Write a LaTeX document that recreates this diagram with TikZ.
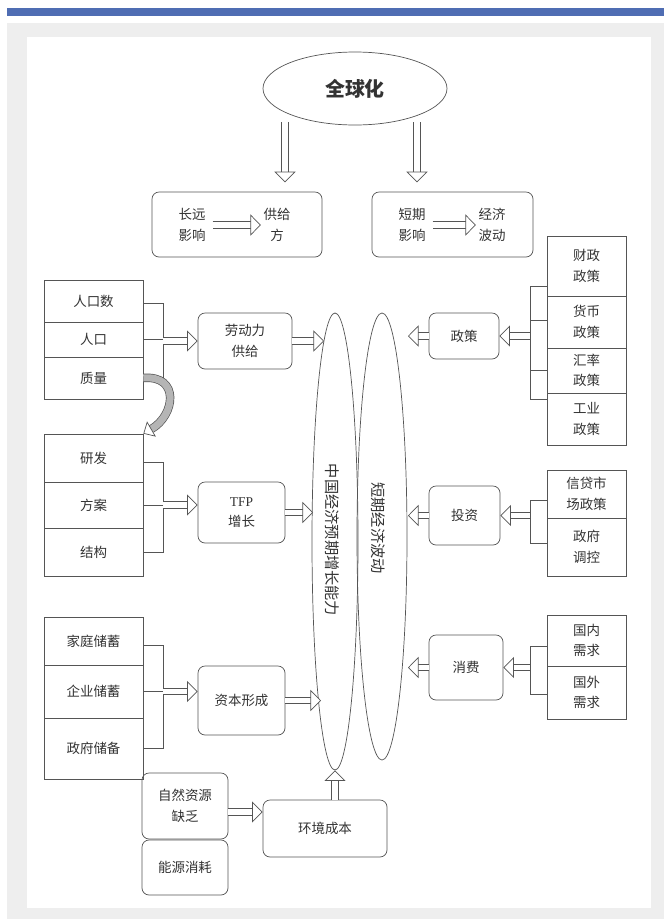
\documentclass[tikz,border=0pt]{standalone}
\usepackage{fontspec}
\setmainfont{Noto Sans CJK SC}
\newfontfamily\latfont{Liberation Serif}
\usepackage{tikz}
\usetikzlibrary{arrows.meta,positioning,calc,shapes.geometric}
\definecolor{bar}{HTML}{4F6DB3}
\definecolor{panel}{HTML}{EEEEEE}
\definecolor{ink}{HTML}{555555}
\definecolor{txt}{HTML}{333333}
\definecolor{shade}{HTML}{B5B5B5}
\newcommand{\px}{0.03cm}

\begin{document}
\begin{tikzpicture}[x=0.03cm,y=-0.03cm,
  every node/.style={font=\fontsize{11.5}{17.5}\selectfont,align=center,text=txt,inner sep=0pt},
  cell/.style={draw=ink,line width=0.6pt,minimum width=99*\px},
  rcell/.style={draw=ink,line width=0.6pt,minimum width=79*\px},
  rbox/.style={draw=ink,line width=0.6pt,rounded corners=6pt},
  oval/.style={draw=ink,line width=0.6pt,ellipse},
  fat/.style={draw=ink,line width=0.6pt,double=white,double distance=5pt,
    -{Triangle[open,fill=white,line width=0.6pt,length=9pt,width=18pt]}},
  curv/.style={draw=ink,line width=0.6pt,double=shade,double distance=6pt,
    -{Triangle[open,fill=white,line width=0.6pt,length=8pt,width=15pt]}},
  bk/.style={draw=ink,line width=0.6pt}
]
\useasboundingbox (0,0) rectangle (664,919);
\fill[white] (0,0) rectangle (664,919);
\fill[bar] (7,8) rectangle (664,16);
\fill[panel] (7,23) rectangle (664,919);
\fill[white] (27,37) rectangle (651,908);

% top
\node[oval,minimum width=184*\px,minimum height=73*\px,
      font=\fontsize{17}{20}\selectfont\bfseries] (glob) at (355,88.5) {全球化};
\node[rbox,minimum width=170*\px,minimum height=65*\px] (supply) at (237,224.5) {};
\node[rbox,minimum width=161*\px,minimum height=65*\px] (fluct) at (452.5,224.5) {};
\node (lr) at (192,225) {长远\\影响};
\node (sup) at (277,225) {供给\\方};
\node (sr) at (412,225) {短期\\影响};
\node (eco) at (492,225) {经济\\波动};
\draw[fat,shorten <=6pt,shorten >=2pt] (lr) -- (sup);
\draw[fat,shorten <=6pt,shorten >=2pt] (sr) -- (eco);
\coordinate (tl) at (285,122);
\coordinate (tr) at (417,122);
\draw[fat,shorten >=8pt] (tl) -- (tl |- supply.north);
\draw[fat,shorten >=8pt] (tr) -- (tr |- fluct.north);

% the two ovals
\node[oval,minimum width=46*\px,minimum height=457*\px] (growth) at (335,541.5) {};
\node[oval,minimum width=50*\px,minimum height=447*\px] (short) at (382,536.5) {};
\node[rotate=-90,font=\fontsize{13}{15}\selectfont] (growthtxt) at (332,540) {中国经济预期增长能力};
\node[rotate=-90,font=\fontsize{13}{15}\selectfont] (shorttxt) at (378,528) {短期经济波动};

% labour
\node[cell,minimum height=42*\px] (pop1) at (93.5,301) {人口数};
\node[cell,minimum height=35*\px] (pop2) at (93.5,339.5) {人口};
\node[cell,minimum height=42*\px] (pop3) at (93.5,378) {质量};
\node[rbox,minimum width=94*\px,minimum height=56*\px] (labour) at (245,341) {劳动力\\供给};
\coordinate (b1) at (163,303);
\draw[bk] (b1 -| pop1.east) -- (b1) |- (pop3.east);
\draw[bk] (pop2.east) -- (pop2.east -| b1);
\draw[fat] (b1 |- labour.west) -- (labour.west);
\coordinate (t1) at (324,341);
\draw[fat] (labour.east) -- (t1);

% tfp
\node[cell,minimum height=48*\px] (rd1) at (93.5,458) {研发};
\node[cell,minimum height=46*\px] (rd2) at (93.5,505) {方案};
\node[cell,minimum height=48*\px] (rd3) at (93.5,552) {结构};
\node[rbox,minimum width=87*\px,minimum height=61*\px] (tfp) at (241.5,512.5) {{\latfont TFP}\\增长};
\coordinate (b2) at (163,462);
\draw[bk] (b2 -| rd1.east) -- (b2) |- (rd3.east);
\draw[bk] (rd2.east) -- (rd2.east -| b2);
\draw[fat] (b2 |- rd2.east) -- (rd2.east -| tfp.west);
\coordinate (t2) at (313,512.5);
\draw[fat] (tfp.east) -- (t2);
\draw[curv] (pop3.east) to[out=5,in=30,looseness=1.7] (rd1.north east);

% capital
\node[cell,minimum height=48*\px] (sav1) at (93.5,641) {家庭储蓄};
\node[cell,minimum height=53*\px] (sav2) at (93.5,691.5) {企业储蓄};
\node[cell,minimum height=61*\px] (sav3) at (93.5,748.5) {政府储备};
\node[rbox,minimum width=87*\px,minimum height=69*\px] (capital) at (241.5,700.5) {资本形成};
\coordinate (b3) at (163,645);
\draw[bk] (b3 -| sav1.east) -- (b3) |- (sav3.east);
\draw[bk] (sav2.east) -- (sav2.east -| b3);
\draw[fat] (b3 |- sav2.east) -- (sav2.east -| capital.west);
\coordinate (t3) at (321,700.5);
\draw[fat] (capital.east) -- (t3);

% environment
\node[rbox,minimum width=86*\px,minimum height=66*\px] (resource) at (185,806) {自然资源\\缺乏};
\node[rbox,minimum width=86*\px,minimum height=55*\px] (energy) at (185,867.5) {能源消耗};
\node[rbox,minimum width=124*\px,minimum height=57*\px] (envcost) at (325,828.5) {环境成本};
\draw[fat] (resource.east |- 0,812) -- (envcost.west |- 0,812);
\draw[fat] (envcost.north -| growth.south) -- (growth.south);

% right side
\node[rcell,minimum height=60*\px] (fis) at (586.5,266) {财政\\政策};
\node[rcell,minimum height=52*\px] (mon) at (586.5,322) {货币\\政策};
\node[rcell,minimum height=45*\px] (fx) at (586.5,370.5) {汇率\\政策};
\node[rcell,minimum height=52*\px] (ind) at (586.5,419) {工业\\政策};
\node[rbox,minimum width=70*\px,minimum height=46*\px] (policy) at (464,336) {政策};
\coordinate (r1) at (530,286);
\draw[bk] (r1) -- (r1 |- 0,399);
\foreach \yy in {286,320,370,399}
  \draw[bk] (fis.west |- 0,\yy) -- (r1 |- 0,\yy);
\draw[fat] (r1 |- policy.east) -- (policy.east);
\coordinate (s1) at (408,336);
\draw[fat] (policy.west) -- (s1);

\node[rcell,minimum height=48*\px] (cred) at (586.5,494) {信贷市\\场政策};
\node[rcell,minimum height=58*\px] (gov) at (586.5,547) {政府\\调控};
\node[rbox,minimum width=71*\px,minimum height=59*\px] (invest) at (464.5,515.5) {投资};
\coordinate (r2) at (530,500);
\draw[bk] (cred.west |- r2) -- (r2) -- (r2 |- 0,543) -- (gov.west |- 0,543);
\draw[fat] (r2 |- invest.east) -- (invest.east);
\coordinate (s2) at (408,515.5);
\draw[fat] (invest.west) -- (s2);

\node[rcell,minimum height=51*\px] (dom) at (586.5,640.5) {国内\\需求};
\node[rcell,minimum height=53*\px] (ext) at (586.5,692.5) {国外\\需求};
\node[rbox,minimum width=74*\px,minimum height=65*\px] (consume) at (466,667.5) {消费};
\coordinate (r3) at (530,646);
\draw[bk] (dom.west |- r3) -- (r3) -- (r3 |- 0,694) -- (ext.west |- 0,694);
\draw[fat] (r3 |- consume.east) -- (consume.east);
\coordinate (s3) at (408,667.5);
\draw[fat] (consume.west) -- (s3);
\end{tikzpicture}
\end{document}
